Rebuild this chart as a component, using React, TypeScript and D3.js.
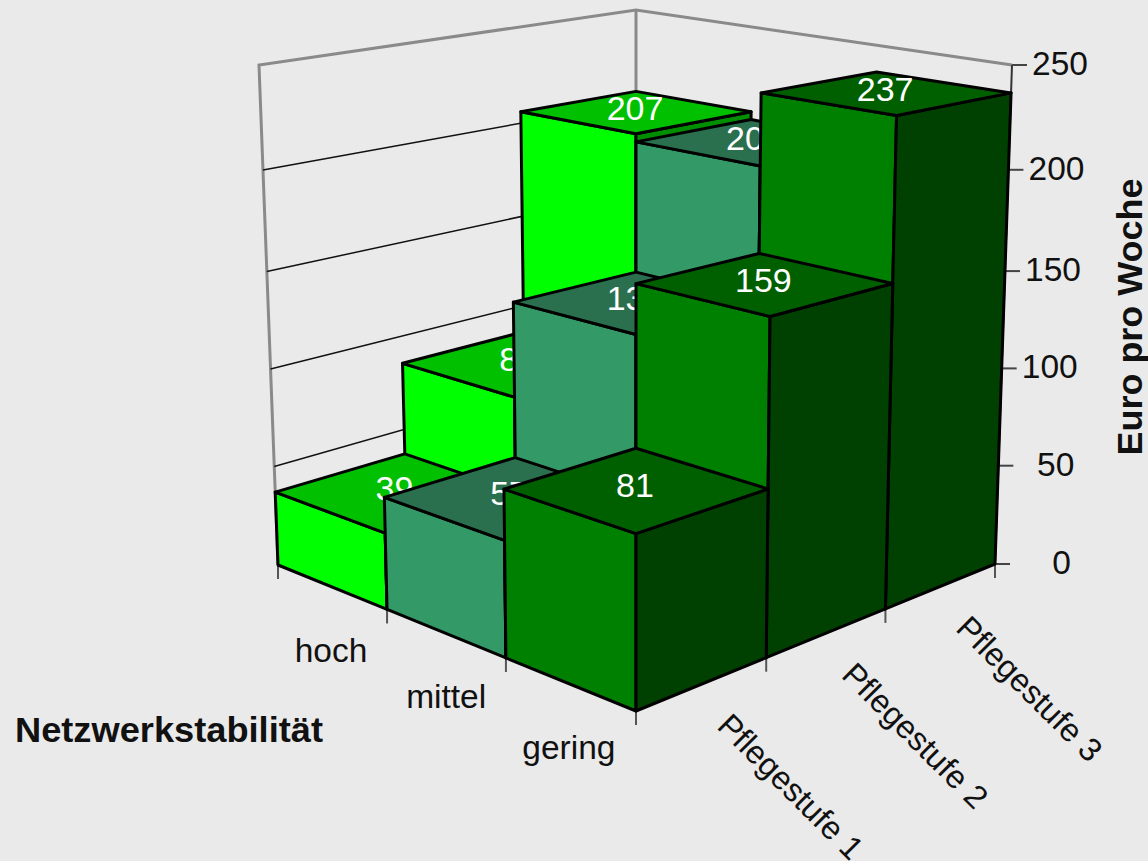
import React from "react";
import * as d3 from "d3";

const stability = ["gering", "mittel", "hoch"];
const careLevels = ["Pflegestufe 1", "Pflegestufe 2", "Pflegestufe 3"];
const hochValues = [39, 88, 207];
const mittelValues = [57, 135, 203];
const geringValues = [81, 159, 237];
const valueTicks = [0, 50, 100, 150, 200, 250];
const tickFractions = [0, 0.197, 0.392, 0.587, 0.79, 1];
const barFractions = [0, 0.187, 0.382, 0.587, 0.785, 1];

const palette: Record<string, { left: string; top: string; right: string }> = {
  hoch: { left: "#00FF00", top: "#00C000", right: "#008F00" },
  mittel: { left: "#339966", top: "#2A704E", right: "#1F5C3F" },
  gering: { left: "#008000", top: "#006000", right: "#004000" },
};

type Pt = [number, number];

function quadMap(p0: Pt, p1: Pt, p2: Pt, p3: Pt) {
  const dx1 = p1[0] - p2[0], dx2 = p3[0] - p2[0], sx = p0[0] - p1[0] + p2[0] - p3[0];
  const dy1 = p1[1] - p2[1], dy2 = p3[1] - p2[1], sy = p0[1] - p1[1] + p2[1] - p3[1];
  const den = dx1 * dy2 - dx2 * dy1;
  const g = (sx * dy2 - dx2 * sy) / den;
  const h = (dx1 * sy - sx * dy1) / den;
  const a = p1[0] - p0[0] + g * p1[0], b = p3[0] - p0[0] + h * p3[0], c = p0[0];
  const d = p1[1] - p0[1] + g * p1[1], e = p3[1] - p0[1] + h * p3[1], f = p0[1];
  return (s: number, t: number): Pt => {
    const w = g * s + h * t + 1;
    return [(a * s + b * t + c) / w, (d * s + e * t + f) / w];
  };
}

// s runs from the front corner to the left corner, t from the front corner to the right corner
const floor = quadMap([636, 711], [278, 565], [636, 450], [995, 564]);
const roof = quadMap([636, 135], [259, 65], [636, 10], [1012, 65]);
const cell = d3.scaleLinear().domain([0, 3]).range([0, 1]);
const lift = d3.scaleLinear().domain(valueTicks).range(tickFractions);
const barLift = d3.scaleLinear().domain(valueTicks).range(barFractions);

function project(u: number, v: number, k: number): Pt {
  const a = floor(cell(u), cell(v));
  const b = roof(cell(u), cell(v));
  return [a[0] + (b[0] - a[0]) * k, a[1] + (b[1] - a[1]) * k];
}
const P = (u: number, v: number, val: number) => project(u, v, lift(val));
const B = (u: number, v: number, val: number) => project(u, v, barLift(val));

const poly = (pts: Pt[]) => pts.map((p) => p.join(",")).join(" ");
const SANS = "'Liberation Sans', Arial, sans-serif";

export default function App() {
  const rows = [geringValues, mittelValues, hochValues];
  const bars = rows
    .flatMap((vals, u) => vals.map((val, v) => ({ u, v, val, name: stability[u] })))
    .sort((x, y) => y.u + y.v - (x.u + x.v) || x.u - y.u);
  return (
    <svg
      width={1148}
      height={861}
      style={{ position: "absolute", left: 0, top: 0, background: "#EAEAEA" }}
      fontFamily={SANS}
    >
      <rect width={1148} height={861} fill="#EAEAEA" />
      {/* walls */}
      <polyline
        points={poly([P(3, 0, 0), P(3, 0, 250), P(3, 3, 250), P(0, 3, 250)])}
        fill="none"
        stroke="#8A8A8A"
        strokeWidth={3}
      />
      <line x1={P(3, 3, 0)[0]} y1={P(3, 3, 0)[1]} x2={P(3, 3, 250)[0]} y2={P(3, 3, 250)[1]} stroke="#8A8A8A" strokeWidth={3} />
      {valueTicks.slice(1, -1).map((t) => (
        <line key={t} x1={P(3, 0, t)[0]} y1={P(3, 0, t)[1]} x2={P(3, 3, t)[0]} y2={P(3, 3, t)[1]} stroke="#111" strokeWidth={1.5} />
      ))}
      <line x1={P(0, 3, 0)[0]} y1={P(0, 3, 0)[1]} x2={P(0, 3, 250)[0]} y2={P(0, 3, 250)[1]} stroke="#333" strokeWidth={2} />
      {/* value axis */}
      {valueTicks.map((t) => {
        const [x, y] = P(0, 3, t);
        return (
          <g key={t}>
            <line x1={x} y1={y} x2={x + 15} y2={y} stroke="#444" strokeWidth={2} />
            <text x={x + 76} y={y - 1.5} textAnchor="end" dominantBaseline="central" fontSize={33.5} fill="#111">
              {t}
            </text>
          </g>
        );
      })}
      {/* floor ticks */}
      {d3.range(0, 4).flatMap((i) => {
        const a = P(i, 0, 0);
        const b = P(0, i, 0);
        return [
          <line key={"a" + i} x1={a[0]} y1={a[1]} x2={a[0]} y2={a[1] + 14} stroke="#555" strokeWidth={2} />,
          <line key={"b" + i} x1={b[0]} y1={b[1]} x2={b[0]} y2={b[1] + 14} stroke="#555" strokeWidth={2} />,
        ];
      })}
      {/* bars, back to front */}
      {bars.map(({ u, v, val, name }) => {
        const c = palette[name];
        const f0 = B(u, v, 0), l0 = B(u + 1, v, 0), r0 = B(u, v + 1, 0);
        const f1 = B(u, v, val), l1 = B(u + 1, v, val), r1 = B(u, v + 1, val), b1 = B(u + 1, v + 1, val);
        const mid = B(u + 0.5, v + 0.5, val);
        return (
          <g key={name + v} stroke="#000" strokeWidth={3} strokeLinejoin="round">
            <polygon points={poly([l0, f0, f1, l1])} fill={c.left} />
            <polygon points={poly([r0, f0, f1, r1])} fill={c.right} />
            <polygon points={poly([l1, f1, r1, b1])} fill={c.top} />
            <text x={mid[0] - 1} y={mid[1] - 4} textAnchor="middle" dominantBaseline="central" fontSize={34} fill="#fff" stroke="none">
              {val}
            </text>
          </g>
        );
      })}
      {/* category labels */}
      {stability.map((s, i) => {
        const pos = P(i + 0.5, 0, 0);
        return (
          <text key={s} x={pos[0] + 46 - 5 * i} y={pos[1] + 63.5} textAnchor="end" fontSize={33.5} fill="#111" dominantBaseline="central">
            {s}
          </text>
        );
      })}
      {careLevels.map((s, i) => {
        const pos = P(0, i + 0.5, 0);
        return (
          <text key={s} transform={`translate(${pos[0] + 21},${pos[1] + 36}) rotate(45)`} fontSize={32.5} fill="#111" dominantBaseline="central">
            {s}
          </text>
        );
      })}
      <text x={15} y={729} fontSize={35} fontWeight="bold" fill="#111" dominantBaseline="central" textLength={308} lengthAdjust="spacingAndGlyphs">
        Netzwerkstabilität
      </text>
      <text transform="translate(1129,317) rotate(-90)" fontSize={35} fontWeight="bold" fill="#111" textAnchor="middle" dominantBaseline="central" textLength={277} lengthAdjust="spacingAndGlyphs">
        Euro pro Woche
      </text>
    </svg>
  );
}
